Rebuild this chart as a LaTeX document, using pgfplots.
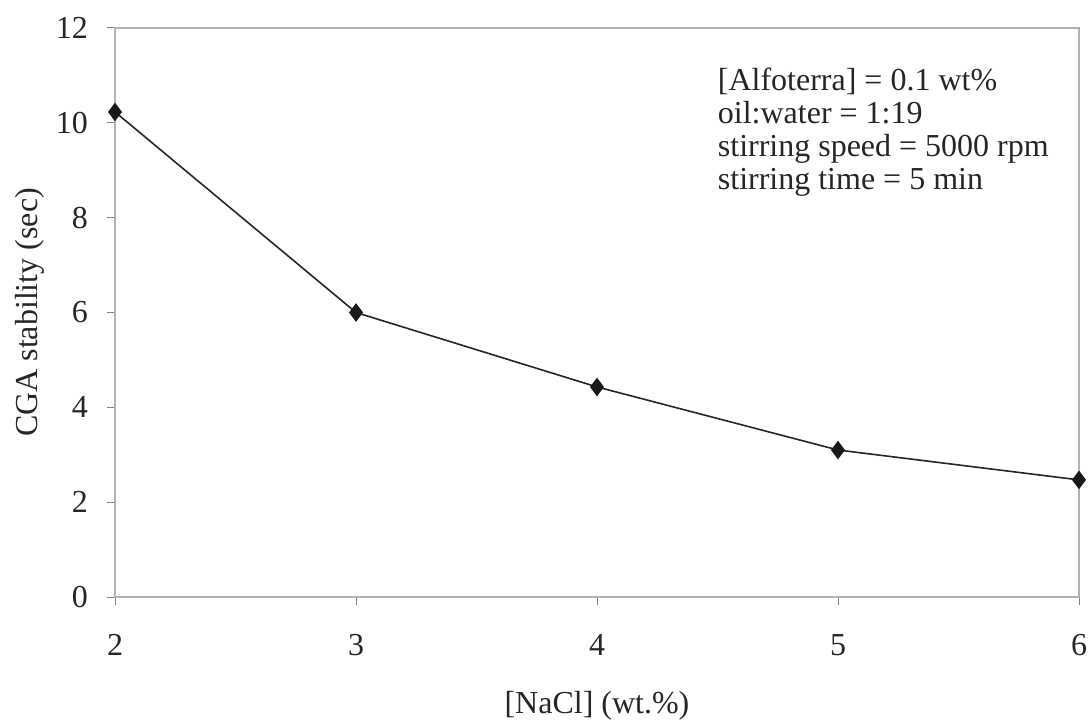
\documentclass[border=0pt]{standalone}
\usepackage{pgfplots}
\pgfplotsset{compat=1.18}
\usepackage{fontspec}
\setmainfont{Liberation Serif}
\begin{document}
\begin{tikzpicture}
\begin{axis}[
  scale only axis,
  width=482pt, height=284.5pt,
  xmin=2, xmax=6, ymin=0, ymax=12,
  xtick={2,3,4,5,6}, ytick={0,2,4,6,8,10,12},
  axis line style={black!30, line width=0.6pt},
  tick style={black!50, line width=0.5pt},
  tick align=outside, major tick length=4pt,
  xtick pos=bottom, ytick pos=left,
  /pgf/number format/assume math mode=true,
  ticklabel style={font=\fontsize{16}{16}\selectfont, text=black!85},
  xticklabel style={yshift=-11pt},
  yticklabel style={xshift=-6pt},
  xlabel={[NaCl] (wt.\%)},
  ylabel={CGA stability (sec)},
  label style={font=\fontsize{16}{16}\selectfont, text=black!85},
  xlabel style={yshift=-11pt},
  ylabel style={yshift=-1pt},
  clip=false,
]
\addplot[black!85, line width=0.8pt, mark=diamond*, mark size=4pt, mark options={fill=black!90, draw=black!90}]
  coordinates {(2,10.23) (3,6.0) (4,4.43) (5,3.1) (6,2.47)};
\node[anchor=north west, align=left, font=\fontsize{16}{16.5}\selectfont, text=black!85, inner sep=0pt]
  at (axis cs:4.50,11.17) {[Alfoterra] = 0.1 wt\%\\oil:water = 1:19\\stirring speed = 5000 rpm\\stirring time = 5 min};
\coordinate (SW) at (rel axis cs:0,0);
\coordinate (NE) at (rel axis cs:1,1);
\end{axis}
\pgfresetboundingbox
\path ([shift={(-57.5pt,-63pt)}]SW) rectangle ([shift={(5pt,14pt)}]NE);
\end{tikzpicture}
\end{document}
